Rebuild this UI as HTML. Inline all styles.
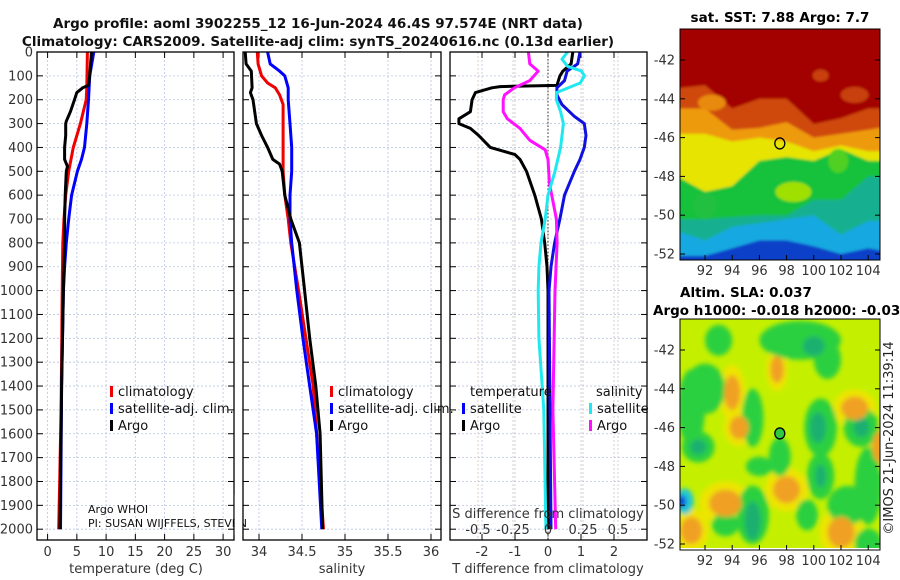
<!DOCTYPE html>
<html><head><meta charset="utf-8"><title>Argo profile</title>
<style>
html,body{margin:0;padding:0;background:#fff;}
svg{display:block;font-family:"DejaVu Sans","Liberation Sans",sans-serif;}
.tk{font-size:13px;fill:#333;}
.tt{font-size:13.5px;font-weight:bold;fill:#111;}
</style></head>
<body>
<svg id="fig" width="900" height="580" viewBox="0 0 900 580" xmlns="http://www.w3.org/2000/svg">
<defs>
<clipPath id="c1"><rect x="37" y="52" width="197" height="488"/></clipPath>
<clipPath id="c2"><rect x="243" y="52" width="198" height="488"/></clipPath>
<clipPath id="c3"><rect x="450" y="52" width="197" height="488"/></clipPath>
<clipPath id="cm1"><rect x="680" y="29" width="200" height="231"/></clipPath>
<clipPath id="cm2"><rect x="680" y="319" width="200" height="229"/></clipPath>
<filter id="bl" x="-10%" y="-10%" width="120%" height="120%"><feGaussianBlur stdDeviation="2.5"/></filter>
<filter id="bl2" x="-10%" y="-10%" width="120%" height="120%"><feGaussianBlur stdDeviation="1.2"/></filter>
</defs>
<text class="tt" x="318" y="28" text-anchor="middle">Argo profile: aoml 3902255_12 16-Jun-2024 46.4S 97.574E (NRT data)</text>
<text class="tt" x="318" y="46" text-anchor="middle">Climatology: CARS2009. Satellite-adj clim: synTS_20240616.nc (0.13d earlier)</text>
<g id="g1"></g>
<g id="g2"></g>
<g id="g3"></g>
<g id="m1"></g>
<g id="m2"></g>
<text x="680" y="297" style="font-size:13.5px;font-weight:bold">Altim. SLA: 0.037</text>
<text x="653" y="315" style="font-size:13.5px;font-weight:bold">Argo h1000: -0.018 h2000: -0.038</text>
<text x="780" y="22" text-anchor="middle" style="font-size:13.5px;font-weight:bold">sat. SST: 7.88 Argo: 7.7</text>
<text transform="translate(893,438) rotate(-90)" text-anchor="middle" style="font-size:13px;fill:#222">©IMOS 21-Jun-2024 11:39:14</text>
</svg>
<script>
// ---------- data ----------
const depthTicks = [0,100,200,300,400,500,600,700,800,900,1000,1100,1200,1300,1400,1500,1600,1700,1800,1900,2000];
const tempTicks = [0,5,10,15,20,25,30];
const salTicks = [34,34.5,35,35.5,36];
const tdiffTicks = [-2,-1,0,1,2];
const sdiffTicks = [-0.5,-0.25,0,0.25,0.5];

const tClimDepth = [0,150,200,300,400,500,600,700,800,1000,1500,2000];
const tClimVal   = [6.8,6.7,6.6,5.6,4.4,3.6,3.1,2.8,2.6,2.5,2.3,1.9];
const tSatDepth  = [0,100,200,300,400,450,500,550,600,700,800,900,1000,1400,2000];
const tSatVal    = [7.9,7.2,7.0,6.7,6.3,5.8,5.1,4.6,4.1,3.6,3.2,2.9,2.7,2.4,2.2];
const tArgoDepth = [0,100,140,150,170,200,250,290,300,350,400,450,480,500,600,700,800,1000,1400,2000];
const tArgoVal   = [7.5,7.2,7.0,6.0,5.0,4.6,3.9,3.2,3.1,3.1,2.9,2.9,3.4,3.2,3.0,2.9,2.9,2.7,2.4,2.1];

const sClimDepth = [0,50,100,130,150,180,220,300,500,600,700,800,1000,1400,2000];
const sClimVal   = [33.98,33.99,34.03,34.10,34.19,34.24,34.28,34.28,34.28,34.30,34.34,34.37,34.46,34.63,34.75];
const sSatDepth  = [0,50,80,100,150,200,300,400,500,600,700,800,1000,1200,1400,1600,2000];
const sSatVal    = [34.10,34.13,34.24,34.30,34.34,34.34,34.36,34.38,34.38,34.36,34.36,34.38,34.44,34.51,34.59,34.67,34.73];
const sArgoDepth = [0,50,80,150,170,200,300,350,400,450,470,500,600,700,800,1000,1200,1400,1600,2000];
const sArgoVal   = [33.84,33.85,33.91,33.92,33.90,33.93,33.97,34.03,34.10,34.16,34.24,34.27,34.30,34.37,34.47,34.53,34.59,34.66,34.71,34.74];

const dtArgoDepth = [0,50,80,100,140,145,150,170,200,250,280,300,320,350,400,430,450,500,600,700,800,900,1000,2000];
const dtArgoVal   = [0.75,0.7,0.45,0.36,0.27,-1.45,-1.7,-2.2,-2.3,-2.35,-2.7,-2.7,-2.35,-2.1,-1.75,-1.0,-0.85,-0.65,-0.4,-0.2,-0.1,-0.03,0,0];
const dtSatDepth  = [0,50,80,120,150,180,220,270,300,350,400,450,500,600,700,800,900,1000,2000];
const dtSatVal    = [0.97,0.9,0.58,0.5,0.27,0.27,0.42,0.8,1.1,1.15,1.1,0.97,0.8,0.5,0.36,0.2,0.09,0.03,0.09];
const dsArgoDepth = [0,50,80,120,150,180,200,250,280,320,370,410,450,550,700,800,1000,1500,2000];
const dsArgoVal   = [-0.14,-0.13,-0.07,-0.13,-0.24,-0.31,-0.32,-0.32,-0.29,-0.2,-0.13,-0.02,0,0.01,0.06,0.065,0.05,0.035,0.055];
const dsSatDepth  = [0,30,60,80,100,130,170,200,250,300,400,500,600,700,800,900,1000,1200,1500,2000];
const dsSatVal    = [0.14,0.1,0.14,0.24,0.26,0.23,0.06,0.06,0.09,0.11,0.09,0.05,0,-0.02,-0.05,-0.065,-0.07,-0.065,-0.03,-0.015];

// SST map: band boundary latitudes at these longitudes
const sstLons = [90.2,92,94,96,98,100,102,104,105];
const sstBounds = [
  [-43.5,-43.3,-44.5,-44.0,-44.0,-45.3,-45.0,-44.5,-44.5],
  [-44.5,-44.5,-45.6,-45.5,-45.2,-46.0,-45.8,-45.6,-45.4],
  [-45.8,-45.8,-46.2,-46.0,-46.2,-46.7,-46.4,-46.7,-46.7],
  [-47.8,-48.8,-48.5,-47.2,-47.0,-47.2,-46.6,-47.2,-47.2],
  [-50.2,-50.2,-50.1,-50.0,-50.0,-49.2,-49.2,-48.0,-48.0],
  [-50.7,-51.3,-50.6,-50.4,-50.2,-50.0,-51.0,-50.3,-50.3],
  [-52.1,-52.1,-51.7,-51.3,-51.3,-51.6,-52.0,-51.7,-51.9]
];
const sstColors = ['#a30000','#cf4a0a','#ee9a0a','#e6e400','#16c23a','#12b090','#18a8e0','#1040c8'];

// SLA map blobs: lon, lat, rx(deg), ry(deg)
const slaGreen = [[92,-44,1.5,1.3],[91.5,-47,1.2,0.8],[95.5,-45.5,0.8,1.5],[97.5,-47.5,0.8,1],[100.5,-46,1.2,1.5],[100.5,-48.5,1,1.2],[99,-41.5,3,1],[101,-42.5,1,1],[103.5,-46,1.3,1],[104,-49,1,2],[102.5,-50,1.5,1],[95.5,-50.5,1.2,1.5],[93.5,-51,1,0.6],[99.5,-50.5,0.8,0.8],[96,-48,1,0.5],[104,-52,1,0.8],[93,-41.5,1,0.8],[91,-45,1,2]];
const slaTeal = [[100.3,-46,0.6,0.8],[100.5,-48.5,0.4,0.6],[95.5,-50.8,0.6,1],[103.5,-46,0.6,0.5],[91.5,-47,0.6,0.4],[100,-41.8,0.8,0.5]];
const slaOrange = [[94,-44.2,0.6,0.9],[93.5,-49.9,1.2,0.7],[91,-51.3,0.8,0.7],[102,-51.4,1,0.8],[97.3,-43,0.5,0.7],[98,-49.2,1,0.7],[103,-45,1,0.6],[104.8,-47,0.5,0.8],[94.5,-46,0.7,0.6]];

// ---------- helpers ----------
const NS='http://www.w3.org/2000/svg';
function mk(parent,tag,attrs,txt){const e=document.createElementNS(NS,tag);for(const k in attrs)e.setAttribute(k,attrs[k]);if(txt!==undefined)e.textContent=txt;parent.appendChild(e);return e;}
const yD = d => 52 + d*0.2386;
const xT = v => 47.6 + v*5.85;
const xS = v => 259 + (v-34)*86;
const xDT = v => 548 + v*33;
const xDS = v => 548 + v*140;

function frame(g,x0,x1,xticks,xf,labels,leftLabels,gridColor){
  const y0=52,y1=540;
  depthTicks.forEach(d=>{
    const l=mk(g,'line',{x1:x0,x2:x1,y1:yD(d),y2:yD(d),stroke:'#b8c4e0','stroke-width':0.8,'stroke-dasharray':'2,2'});
    
    
    mk(g,'line',{x1:x0,x2:x0+6,y1:yD(d),y2:yD(d),stroke:'#000'});
    mk(g,'line',{x1:x1-6,x2:x1,y1:yD(d),y2:yD(d),stroke:'#000'});
    if(leftLabels){const t=mk(g,'text',{x:33,y:yD(d)+4.5,'text-anchor':'end',class:'tk'},String(d));
      
      }
  });
  xticks.forEach(v=>{
    const l=mk(g,'line',{x1:xf(v),x2:xf(v),y1:y0,y2:y1,stroke:gridColor,'stroke-width':0.8,'stroke-dasharray':'2,2'});
    
    
    mk(g,'line',{x1:xf(v),x2:xf(v),y1:y1-6,y2:y1,stroke:'#000'});
    mk(g,'line',{x1:xf(v),x2:xf(v),y1:y0,y2:y0+6,stroke:'#000'});
    if(labels){const t=mk(g,'text',{x:xf(v),y:556,'text-anchor':'middle',class:'tk'},String(v));
      
      }
  });
}
function border(g,x0,x1){const r=mk(g,'rect',{x:x0,y:52,width:x1-x0,height:488,fill:'none',stroke:'#000','stroke-width':1.3});
  
  }
function line(g,clip,depths,vals,xf,color,name){
  const pts=depths.map((d,i)=>xf(vals[i]).toFixed(1)+','+yD(d).toFixed(1)).join(' ');
  const p=mk(g,'polyline',{points:pts,fill:'none',stroke:color,'stroke-width':3,'stroke-linejoin':'round','clip-path':'url(#'+clip+')'});
  
  
}
function legItem(g,x,y,color,label,name){
  mk(g,'rect',{x:x,y:y-10,width:3,height:11,fill:color});
  const t=mk(g,'text',{x:x+8,y:y,style:'font-size:13px;fill:#111'},label);
  
  
}

// ---------- panel 1 ----------
const g1=document.getElementById('g1');
frame(g1,37,234,tempTicks,xT,true,true,'#b8c4e0');
line(g1,'c1',tClimDepth,tClimVal,xT,'#f00000','temp-climatology-line');
line(g1,'c1',tSatDepth,tSatVal,xT,'#0000ff','temp-satellite-line');
line(g1,'c1',tArgoDepth,tArgoVal,xT,'#000','temp-argo-line');
border(g1,37,234);
legItem(g1,110,396,'#f00000','climatology','legend-climatology');
legItem(g1,110,413,'#0000ff','satellite-adj. clim.','legend-satellite');
legItem(g1,110,430,'#000','Argo','legend-argo');
mk(g1,'text',{x:88,y:513,style:'font-size:11px;fill:#111'},'Argo WHOI');
mk(g1,'text',{x:88,y:527,style:'font-size:11px;fill:#111'},'PI: SUSAN WIJFFELS, STEVEN');
mk(g1,'text',{x:136,y:573,'text-anchor':'middle',class:'tk'},'temperature (deg C)');

// ---------- panel 2 ----------
const g2=document.getElementById('g2');
mk(g2,'rect',{x:234.7,y:495,width:8,height:40,fill:'#fff'});
frame(g2,243,441,salTicks,xS,true,false,'#b8c4e0');
line(g2,'c2',sClimDepth,sClimVal,xS,'#f00000','sal-climatology-line');
line(g2,'c2',sSatDepth,sSatVal,xS,'#0000ff','sal-satellite-line');
line(g2,'c2',sArgoDepth,sArgoVal,xS,'#000','sal-argo-line');
border(g2,243,441);
legItem(g2,330,396,'#f00000','climatology','legend-climatology-2');
legItem(g2,330,413,'#0000ff','satellite-adj. clim.','legend-satellite-2');
legItem(g2,330,430,'#000','Argo','legend-argo-2');
mk(g2,'text',{x:342,y:573,'text-anchor':'middle',class:'tk'},'salinity');

// ---------- panel 3 ----------
const g3=document.getElementById('g3');
frame(g3,450,647,tdiffTicks,xDT,true,false,'#b8c4e0');
sdiffTicks.forEach(v=>{mk(g3,'line',{x1:xDS(v),x2:xDS(v),y1:52,y2:540,stroke:'#d8c0b0','stroke-width':0.8,'stroke-dasharray':'2,2'});});
mk(g3,'line',{x1:548,x2:548,y1:52,y2:540,stroke:'#333','stroke-width':1,'stroke-dasharray':'1.5,2'});
line(g3,'c3',dtArgoDepth,dtArgoVal,xDT,'#000','tdiff-argo-line');
line(g3,'c3',dtSatDepth,dtSatVal,xDT,'#1010e0','tdiff-satellite-line');
line(g3,'c3',dsArgoDepth,dsArgoVal,xDS,'#ff10ff','sdiff-argo-line');
line(g3,'c3',dsSatDepth,dsSatVal,xDS,'#20e8f0','sdiff-satellite-line');
border(g3,450,647);
mk(g3,'text',{x:470,y:396,style:'font-size:13px;fill:#111'},'temperature');
legItem(g3,462,413,'#0000ff','satellite','legend-t-satellite');
legItem(g3,462,430,'#000','Argo','legend-t-argo');
mk(g3,'text',{x:596,y:396,style:'font-size:13px;fill:#111'},'salinity');
legItem(g3,589,413,'#20e8f0','satellite','legend-s-satellite');
legItem(g3,589,430,'#ff10ff','Argo','legend-s-argo');
mk(g3,'text',{x:548,y:518,'text-anchor':'middle',class:'tk'},'S difference from climatology');
sdiffTicks.forEach(v=>{const t=mk(g3,'text',{x:xDS(v),y:534,'text-anchor':'middle',class:'tk'},String(v));
  
  });
mk(g3,'text',{x:548,y:573,'text-anchor':'middle',class:'tk'},'T difference from climatology');

// ---------- maps ----------
const mx = lon => 705 + (lon-92)*13.6;
function mapAxes(g,top){
  const my = lat => top + 31 + (-42-lat)*19.4;
  [-42,-44,-46,-48,-50,-52].forEach(lat=>{
    const t=mk(g,'text',{x:675,y:my(lat)+4.5,'text-anchor':'end',class:'tk'},String(lat));
    
    
    mk(g,'line',{x1:680,x2:685,y1:my(lat),y2:my(lat),stroke:'#000'});
    mk(g,'line',{x1:875,x2:880,y1:my(lat),y2:my(lat),stroke:'#000'});
  });
  [92,94,96,98,100,102,104].forEach(lon=>{
    const t=mk(g,'text',{x:mx(lon),y:top+246,'text-anchor':'middle',class:'tk'},String(lon));
    
    
    mk(g,'line',{x1:mx(lon),x2:mx(lon),y1:top+226,y2:top+231,stroke:'#000'});
  });
  const r=mk(g,'rect',{x:680,y:top,width:200,height:231,fill:'none',stroke:'#000','stroke-width':1});
  
  
  return my;
}
// SST
const m1=document.getElementById('m1');
const my1 = lat => 29 + 31 + (-42-lat)*19.4;
const sg0=mk(m1,'g',{'clip-path':'url(#cm1)'});
const sg=mk(sg0,'g',{filter:'url(#bl2)'});
mk(sg,'rect',{x:670,y:20,width:220,height:250,fill:sstColors[0]});
for(let b=0;b<sstBounds.length;b++){
  const top=sstBounds[b];
  let pts=sstLons.map((lo,i)=>mx(lo).toFixed(1)+','+my1(top[i]).toFixed(1));
  pts.push('890,270','670,270');
  pts[0]='670,'+my1(top[0]).toFixed(1);
  pts[sstLons.length-1]='890,'+my1(top[sstLons.length-1]).toFixed(1);
  const p=mk(sg,'polygon',{points:pts.join(' '),fill:sstColors[b+1]});
  
  
}
mk(sg,'ellipse',{cx:mx(98.5),cy:my1(-48.8),rx:18,ry:10,fill:'#a0e000'});
mk(sg,'ellipse',{cx:mx(92),cy:my1(-49.5),rx:12,ry:14,fill:'#20c040'});
mk(sg,'ellipse',{cx:mx(92.5),cy:my1(-44.2),rx:14,ry:8,fill:'#e88a10'});
mk(sg,'ellipse',{cx:mx(100.5),cy:my1(-42.8),rx:8,ry:6,fill:'#c84010'});
mk(sg,'ellipse',{cx:mx(103),cy:my1(-43.8),rx:14,ry:8,fill:'#c84010'});
mk(sg,'ellipse',{cx:mx(101.8),cy:my1(-47.2),rx:10,ry:12,fill:'#50d020'});
mk(m1,'ellipse',{cx:mx(97.5),cy:my1(-46.3),rx:5,ry:5.5,fill:'none',stroke:'#000','stroke-width':1.3,});
mapAxes(m1,29);

// SLA
const m2=document.getElementById('m2');
const my2 = lat => 319 + 31 + (-42-lat)*19.4;
const lg=mk(m2,'g',{'clip-path':'url(#cm2)'});
mk(lg,'rect',{x:680,y:319,width:200,height:231,fill:'#c4f000'});
const bg=mk(lg,'g',{filter:'url(#bl)'});
function blobs(arr,color,scale,name){arr.forEach(b=>{
  const e=mk(bg,'ellipse',{cx:mx(b[0]),cy:my2(b[1]),rx:b[2]*13.6*scale,ry:b[3]*19.4*scale,fill:color});
  
  
});}
blobs(slaOrange,'#eee400',1.6,'sla-high-halo');
blobs(slaGreen,'#2cd040',1,'sla-green-patch');
blobs(slaTeal,'#1cb070',1,'sla-low-patch');
blobs(slaOrange,'#f0a020',1,'sla-high-patch');
mk(bg,'ellipse',{cx:mx(90.5),cy:my2(-49.8),rx:9,ry:13,fill:'#20c8d0'});
mk(bg,'ellipse',{cx:mx(90.3),cy:my2(-49.8),rx:4,ry:6,fill:'#1030e0'});
mk(m2,'ellipse',{cx:mx(97.5),cy:my2(-46.3),rx:5,ry:5.5,fill:'#30c840',stroke:'#000','stroke-width':1.3,});
mapAxes(m2,319);
</script>
</body></html>
